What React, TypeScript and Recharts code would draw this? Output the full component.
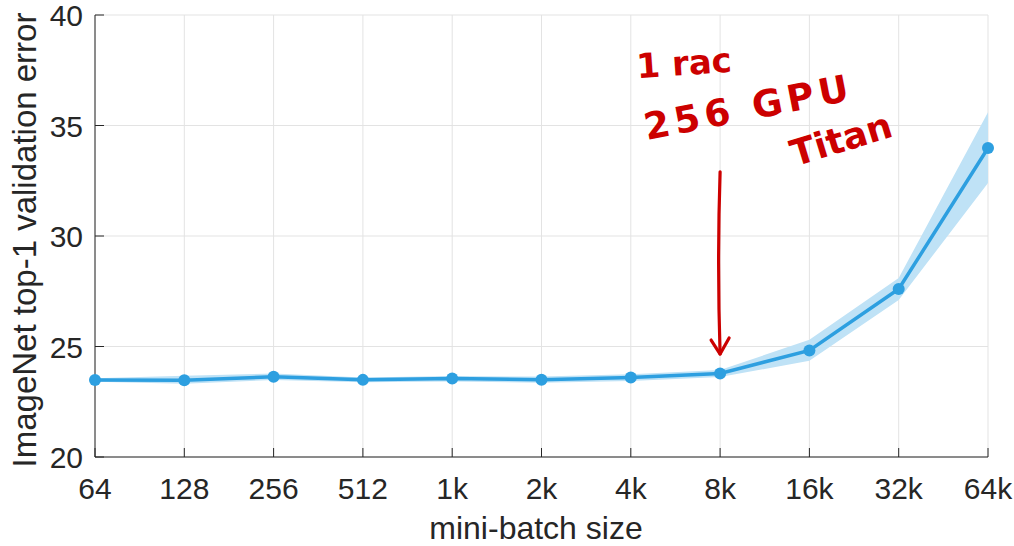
import {
  ComposedChart, Area, Line, XAxis, YAxis, CartesianGrid, ReferenceLine,
} from "recharts";

const batchSizes = ["64", "128", "256", "512", "1k", "2k", "4k", "8k", "16k", "32k", "64k"];
const meanError = [23.48, 23.47, 23.63, 23.49, 23.55, 23.5, 23.6, 23.78, 24.82, 27.6, 33.98];
const errLow = [23.4, 23.32, 23.48, 23.38, 23.42, 23.36, 23.44, 23.62, 24.35, 27.1, 32.4];
const errHigh = [23.56, 23.68, 23.78, 23.6, 23.66, 23.64, 23.74, 23.94, 25.3, 28.1, 35.6];
const yTicks = [20, 25, 30, 35, 40];

const data = batchSizes.map((size, i) => ({
  size,
  mean: meanError[i],
  band: [errLow[i], errHigh[i]],
}));

const AXIS = "#262626";
const BLUE = "#2d9fe0";
const RED = "#cc0000";
const FONT = "'Liberation Sans', Arial, Helvetica, sans-serif";

function XTick({ x, y, payload }: any) {
  return (
    <g>
      <line x1={x} y1={y} x2={x} y2={y - 9} stroke={AXIS} strokeWidth={1} />
      <text x={x} y={y + 42} textAnchor="middle" fontSize={30} fill={AXIS} fontFamily={FONT}>
        {payload.value}
      </text>
    </g>
  );
}

function YTick({ x, y, payload }: any) {
  return (
    <g>
      <line x1={x} y1={y} x2={x + 9} y2={y} stroke={AXIS} strokeWidth={1} />
      <text x={x - 12} y={y + 11} textAnchor="end" fontSize={30} fill={AXIS} fontFamily={FONT}>
        {payload.value}
      </text>
    </g>
  );
}

function Arrow({ x1, y1, x2, y2 }: any) {
  return (
    <g stroke={RED} strokeWidth={3.2} fill="none" strokeLinecap="round" strokeLinejoin="round">
      <path d={`M${x1} ${y1} Q${x1 - 3} ${(y1 + y2) / 2} ${x2} ${y2}`} />
      <path d={`M${x2 - 9} ${y2 - 14} L${x2} ${y2} L${x2 + 9} ${y2 - 16}`} />
    </g>
  );
}

export default function App() {
  return (
    <div style={{ position: "relative", width: 1014, height: 546, background: "#fff" }}>
      <style>{"body{margin:0}"}</style>
      <ComposedChart
        width={1014}
        height={546}
        data={data}
        margin={{ top: 15, right: 26, left: 0, bottom: 0 }}
      >
        <CartesianGrid stroke="#e3e3e3" strokeWidth={1} />
        <XAxis
          dataKey="size"
          scale="point"
          padding={{ left: 0, right: 0 }}
          height={89}
          stroke={AXIS}
          tickSize={0}
          tickMargin={0}
          tickLine={false}
          tick={<XTick />}
          interval={0}
        />
        <YAxis
          domain={[20, 40]}
          ticks={yTicks}
          width={95}
          stroke={AXIS}
          tickSize={0}
          tickMargin={0}
          tickLine={false}
          tick={<YTick />}
        />
        <Area
          dataKey="band"
          stroke="none"
          fill="#bfe2f6"
          fillOpacity={1}
          isAnimationActive={false}
          activeDot={false}
        />
        <Line
          dataKey="mean"
          stroke={BLUE}
          strokeWidth={3.5}
          dot={{ r: 6, fill: BLUE, stroke: BLUE, strokeWidth: 0 }}
          activeDot={false}
          isAnimationActive={false}
        />
        <ReferenceLine
          segment={[{ x: "8k", y: 32.9 }, { x: "8k", y: 24.66 }]}
          shape={<Arrow />}
        />
      </ComposedChart>
      <svg
        width={1014}
        height={546}
        style={{ position: "absolute", left: 0, top: 0, pointerEvents: "none" }}
      >
        <text
          x={536}
          y={539}
          textAnchor="middle"
          fontSize={32}
          fill={AXIS}
          fontFamily={FONT}
        >
          mini-batch size
        </text>
        <text
          transform="translate(36 240) rotate(-90)"
          textAnchor="middle"
          fontSize={33}
          fill={AXIS}
          fontFamily={FONT}
        >
          ImageNet top-1 validation error
        </text>
        <g fill={RED} fontFamily="'DejaVu Sans', sans-serif" fontWeight="bold">
          <text x={684} y={75} textAnchor="middle" fontSize={34} transform="rotate(-4 684 62)">
            1 rac
          </text>
          <text x={748} y={120} textAnchor="middle" fontSize={37} letterSpacing={5} transform="rotate(-11 748 104)">
            256 GPU
          </text>
          <text x={840} y={152} textAnchor="middle" fontSize={36} transform="rotate(-17 840 136)">
            Titan
          </text>
        </g>
      </svg>
    </div>
  );
}
